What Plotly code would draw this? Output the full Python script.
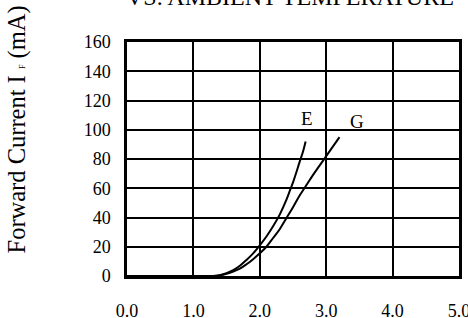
import plotly.graph_objects as go

# Data
e_v = [0.0, 1.0, 1.2, 1.3, 1.4, 1.5, 1.6, 1.7, 1.8, 1.9, 2.0, 2.1, 2.2, 2.3, 2.4, 2.45, 2.5, 2.6, 2.65, 2.69]
e_i = [0.0, 0.0, 0.0, 0.0, 0.5, 2.0, 4.0, 7.0, 11.0, 15.5, 21.0, 27.0, 34.0, 42.0, 52.0, 58.0, 64.0, 78.0, 85.0, 92.0]
g_v = [0.0, 1.0, 1.2, 1.3, 1.4, 1.5, 1.6, 1.7, 1.8, 1.9, 2.0, 2.1, 2.2, 2.3, 2.4, 2.5, 2.6, 2.7, 2.8, 2.9, 3.0, 3.1, 3.2]
g_i = [0.0, 0.0, 0.0, 0.0, 0.5, 1.5, 3.0, 5.0, 8.0, 11.5, 15.5, 20.0, 26.0, 32.0, 39.5, 47.0, 55.0, 62.0, 69.0, 75.5, 82.0, 88.5, 95.0]
x_ticks = [0, 1, 2, 3, 4, 5]
x_tick_labels = ["0.0", "1.0", "2.0", "3.0", "4.0", "5.0"]
y_ticks = [0, 20, 40, 60, 80, 100, 120, 140, 160]
y_tick_labels = ["0", "20", "40", "60", "80", "100", "120", "140", "160"]
series_labels = ["E", "G"]
label_pos_x = [2.71, 3.47]
label_pos_y = [107.5, 105.5]

FONT = "Liberation Serif, Times New Roman, serif"


def serif(s):
    return "<span style='font-family:Liberation Serif'>" + s + "</span>"


fig = go.Figure()
fig.add_trace(go.Scatter(x=e_v, y=e_i, mode="lines", line=dict(color="black", width=2, shape="spline"),
                         showlegend=False, hoverinfo="skip"))
fig.add_trace(go.Scatter(x=g_v, y=g_i, mode="lines", line=dict(color="black", width=2, shape="spline"),
                         showlegend=False, hoverinfo="skip"))

for t, lx, ly in zip(series_labels, label_pos_x, label_pos_y):
    fig.add_annotation(x=lx, y=ly, xref="x", yref="y", text=t, showarrow=False,
                       font=dict(family=FONT, size=19, color="black"))

fig.add_annotation(x=0.49, y=1.193, xref="paper", yref="paper", text="VS. AMBIENT TEMPERATURE",
                   showarrow=False, yanchor="middle", xanchor="center",
                   font=dict(family=FONT, size=24, color="black"))

fig.add_annotation(x=-0.33, y=0.628, xref="paper", yref="paper", textangle=-90,
                   xanchor="center", yanchor="middle",
                   text="Forward Current I <span style='font-size:8px'>F</span> (mA)",
                   showarrow=False, font=dict(family=FONT, size=24.5, color="black"))

tickfont = dict(family=FONT, size=18, color="black")
fig.update_layout(
    width=468, height=318,
    margin=dict(l=127, r=9, t=42, b=42, autoexpand=False),
    paper_bgcolor="white", plot_bgcolor="white",
    font=dict(family=FONT, size=18, color="black"),
    xaxis=dict(range=[0, 5], tickvals=x_ticks, ticktext=[serif(s) for s in x_tick_labels], showgrid=True,
               gridcolor="black", gridwidth=1.5, zeroline=False, showline=True, linecolor="black",
               linewidth=2.5, mirror=True, ticks="", ticklabelstandoff=17, fixedrange=True,
               automargin=False, tickfont=tickfont, ticklabeloverflow="allow"),
    yaxis=dict(range=[0, 160], tickvals=y_ticks, ticktext=[serif(s) for s in y_tick_labels], showgrid=True,
               gridcolor="black", gridwidth=1.5,
               zeroline=False, showline=True, linecolor="black", linewidth=2.5, mirror=True,
               ticks="", ticklabelstandoff=10, fixedrange=True, automargin=False, tickfont=tickfont,
               ticklabeloverflow="allow"),
)

fig.write_html("out.html", config={"displayModeBar": False},
               post_script="document.body.style.margin='0px';document.body.style.overflow='hidden';")
